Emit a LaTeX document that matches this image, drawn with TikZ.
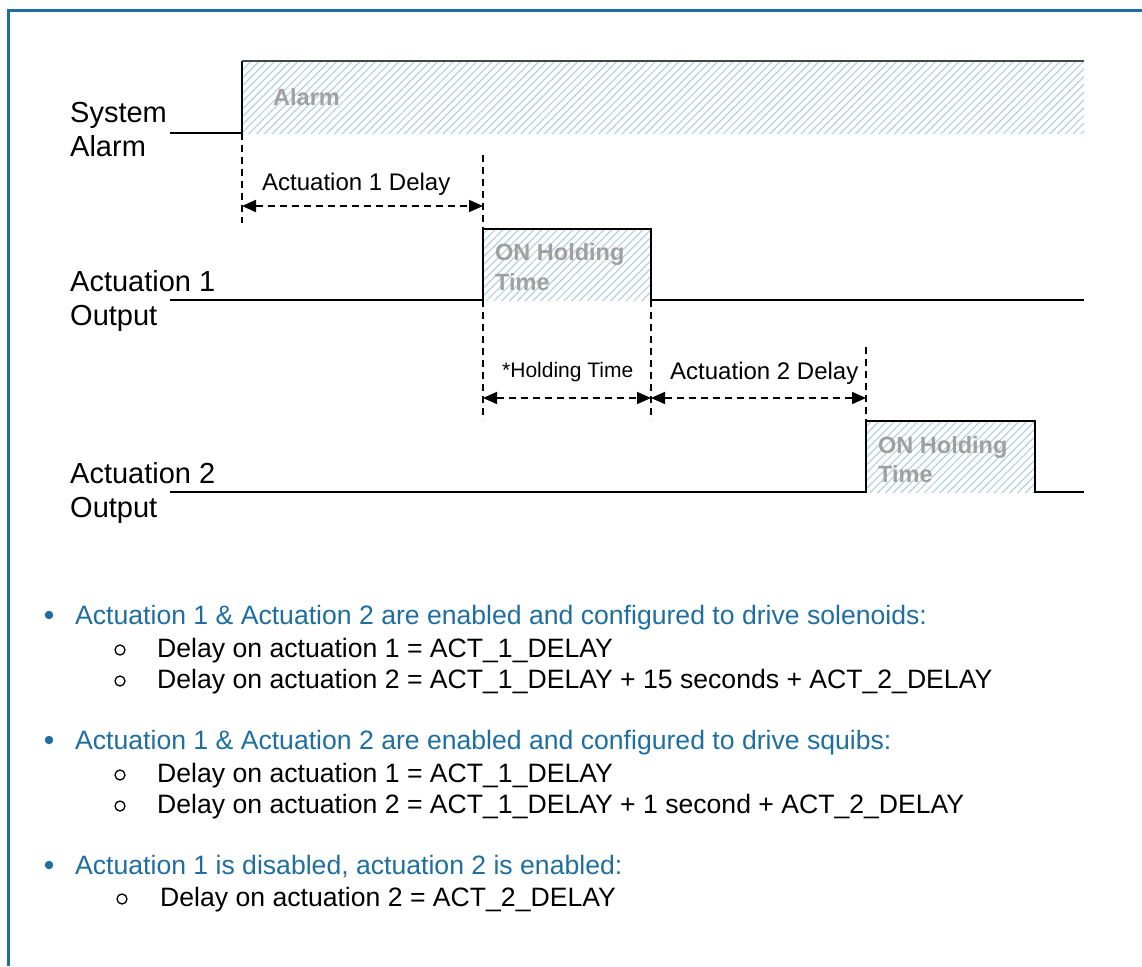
\documentclass[tikz,border=0pt]{standalone}
\usepackage{fontspec}
\setmainfont{Liberation Sans}
\usetikzlibrary{arrows.meta,patterns.meta}
\definecolor{frameblue}{RGB}{30,110,160}
\definecolor{hatch}{RGB}{180,208,226}
\definecolor{ghost}{RGB}{160,160,160}
\definecolor{topline}{RGB}{70,70,70}
\tikzset{
 sig/.style={line width=1.9pt, black, line join=miter},
 dimline/.style={line width=1.7pt, dash pattern=on 7pt off 5pt},
 dimarrow/.style={line width=1.7pt, dash pattern=on 7pt off 5pt, {Triangle[length=14pt,width=12pt]}-{Triangle[length=14pt,width=12pt]}},
 lab/.style={inner sep=0, anchor=base west, font=\fontsize{29}{34}\selectfont},
 dlab/.style={inner sep=0, anchor=base west, font=\fontsize{24}{28}\selectfont},
 hlab/.style={inner sep=0, anchor=base west, font=\fontsize{21}{25}\selectfont},
 ghosttxt/.style={inner sep=0, anchor=base west, font=\fontsize{23.5}{28}\selectfont\bfseries, text=ghost},
 hatchfill/.style={pattern={Lines[angle=45,distance=5.5pt,line width=1.2pt]}, pattern color=hatch},
 btxt/.style={inner sep=0, anchor=base west, font=\fontsize{26.6}{31}\selectfont, text=frameblue},
 stxt/.style={inner sep=0, anchor=base west, font=\fontsize{26.6}{31}\selectfont},
 bdot/.style={circle, fill=frameblue, inner sep=0, minimum size=8.5pt},
 sdot/.style={circle, draw=black, line width=1.3pt, inner sep=0, minimum size=10pt},
 frame/.style={line width=3pt, frameblue},
}
\begin{document}
\begin{tikzpicture}[x=1pt,y=-1pt]
\useasboundingbox (0,0) rectangle (1142,966);
% frame
\coordinate (fcorner) at (8,11);
\coordinate (fright) at (1142,11);
\coordinate (fbottom) at (8,966);
\draw[frame] (fright) -- (fcorner) -- (fbottom);

% ---------- System alarm ----------
\coordinate (a0) at (170,133);
\coordinate (a1) at (242,133);
\coordinate (a2) at (242,61);
\coordinate (a3) at (1084,61);
\coordinate (a4) at (1084,133);
\fill[hatchfill] (a2) rectangle (a4);
\draw[sig] (a0) -- (a1);
\draw[sig] (a1) -- (a2);
\draw[line width=2pt, topline] (a2) -- (a3);
\node[ghosttxt] (alarmtxt) at (273,105) {Alarm};
\node[lab] (sys1) at (70,122) {System};
\node[lab] (sys2) at (70,156) {Alarm};

% ---------- Actuation 1 ----------
\coordinate (b0) at (170,300);
\coordinate (b1) at (483,300);
\coordinate (b2) at (483,229);
\coordinate (b3) at (651,229);
\coordinate (b4) at (651,300);
\coordinate (b5) at (1084,300);
\fill[hatchfill] (b2) rectangle (b4);
\draw[sig] (b0) -- (b1) -- (b2) -- (b3) -- (b4) -- (b5);
\node[ghosttxt] (on1a) at (495,260) {ON Holding};
\node[ghosttxt] (on1b) at (495,290) {Time};
\node[lab] (act1a) at (70,291) {Actuation 1};
\node[lab] (act1b) at (70,325) {Output};

% ---------- Actuation 2 ----------
\coordinate (c0) at (170,492);
\coordinate (c1) at (866,492);
\coordinate (c2) at (866,421);
\coordinate (c3) at (1035,421);
\coordinate (c4) at (1035,492);
\coordinate (c5) at (1084,492);
\fill[hatchfill] (c2) rectangle (c4);
\draw[sig] (c0) -- (c1) -- (c2) -- (c3) -- (c4) -- (c5);
\node[ghosttxt] (on2a) at (878,453) {ON Holding};
\node[ghosttxt] (on2b) at (878,482) {Time};
\node[lab] (act2a) at (70,483) {Actuation 2};
\node[lab] (act2b) at (70,517) {Output};

% ---------- dimension lines ----------
\coordinate (v1t) at (242,133);
\coordinate (v1b) at (242,223);
\coordinate (v2t) at (483,155);
\coordinate (v2b) at (483,229);
\coordinate (v3t) at (483,300);
\coordinate (v3b) at (483,420);
\coordinate (v4t) at (651,300);
\coordinate (v4b) at (651,420);
\coordinate (v5t) at (866,347);
\coordinate (v5b) at (866,421);
\draw[dimline] (v1t) -- (v1b);
\draw[dimline] (v2t) -- (v2b);
\draw[dimline] (v3t) -- (v3b);
\draw[dimline] (v4t) -- (v4b);
\draw[dimline] (v5t) -- (v5b);

\coordinate (d1l) at (242,206);
\coordinate (d1r) at (483,206);
\coordinate (d2l) at (483,398);
\coordinate (d2r) at (651,398);
\coordinate (d3l) at (651,398);
\coordinate (d3r) at (866,398);
\draw[dimarrow] (d1l) -- (d1r);
\draw[dimarrow] (d2l) -- (d2r);
\draw[dimarrow] (d3l) -- (d3r);
\node[dlab] (dl1) at (262,190) {Actuation 1 Delay};
\node[hlab] (dl2) at (502,377) {*Holding Time};
\node[dlab] (dl3) at (670,379) {Actuation 2 Delay};

% ---------- bullets ----------
\node[bdot] (bd1) at (49,615) {};
\node[btxt] (bt1) at (75,624) {Actuation 1 \& Actuation 2 are enabled and configured to drive solenoids:};
\node[sdot] (sd11) at (120,650) {};
\node[stxt] (st11) at (157,657) {Delay on actuation 1 = ACT\_1\_DELAY};
\node[sdot] (sd12) at (120,681) {};
\node[stxt] (st12) at (157,688) {Delay on actuation 2 = ACT\_1\_DELAY + 15 seconds + ACT\_2\_DELAY};

\node[bdot] (bd2) at (49,740) {};
\node[btxt] (bt2) at (75,749) {Actuation 1 \& Actuation 2 are enabled and configured to drive squibs:};
\node[sdot] (sd21) at (120,775) {};
\node[stxt] (st21) at (157,782) {Delay on actuation 1 = ACT\_1\_DELAY};
\node[sdot] (sd22) at (120,806) {};
\node[stxt] (st22) at (157,813) {Delay on actuation 2 = ACT\_1\_DELAY + 1 second + ACT\_2\_DELAY};

\node[bdot] (bd3) at (49,865) {};
\node[btxt] (bt3) at (75,874) {Actuation 1 is disabled, actuation 2 is enabled:};
\node[sdot] (sd31) at (122,899) {};
\node[stxt] (st31) at (160,906) {Delay on actuation 2 = ACT\_2\_DELAY};
\end{tikzpicture}
\end{document}
